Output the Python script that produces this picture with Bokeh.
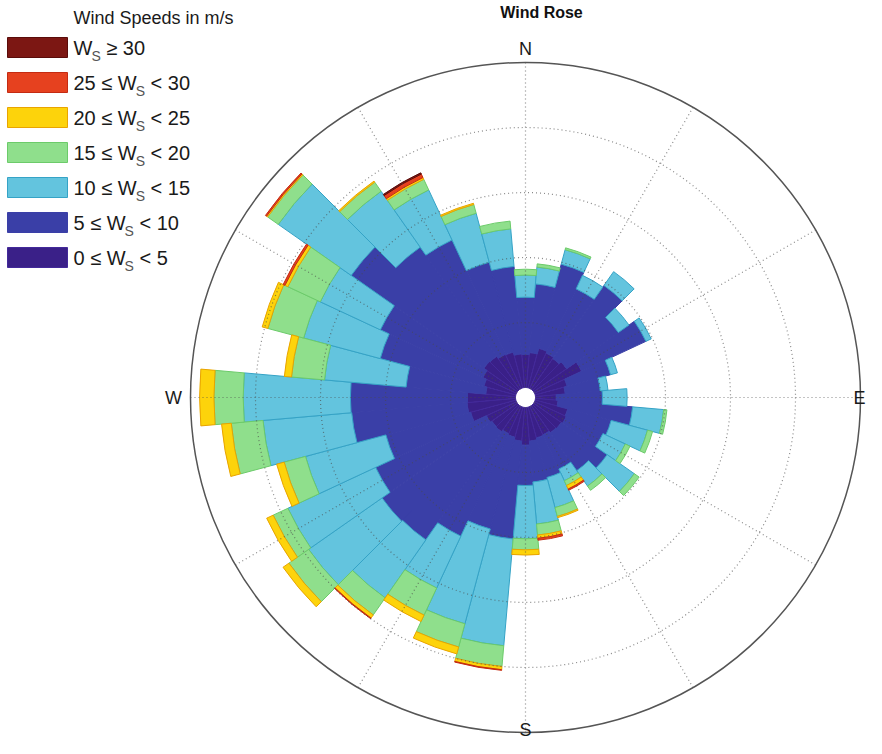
import math
from bokeh.plotting import figure
from bokeh.models import Range1d
from bokeh.embed import file_html
from bokeh.resources import INLINE
from bokeh.core.properties import value

# ---------------- data (frequency per speed bin, % ; one ring = 1 %) ----------------
directions = list(range(0, 360, 10))  # compass degrees, N = 0, clockwise

ws_0_5 = [0.51, 0.54, 0.63, 0.60, 0.58, 0.62, 0.80, 0.51, 0.46, 0.32, 0.35, 0.52,
          0.54, 0.52, 0.51, 0.48, 0.49, 0.52, 0.58, 0.52, 0.48, 0.46, 0.49, 0.48,
          0.51, 0.72, 0.75, 0.74, 0.46, 0.51, 0.57, 0.63, 0.62, 0.58, 0.57, 0.52]
ws_5_10 = [0.88, 1.06, 1.34, 1.09, 1.37, 0.97, 1.09, 0.69, 0.54, 0.71, 1.15, 0.69,
           0.62, 0.86, 0.71, 0.58, 0.63, 0.63, 0.62, 1.51, 1.46, 1.74, 2.03, 2.06,
           1.88, 1.35, 1.78, 1.80, 1.23, 1.65, 1.74, 2.49, 2.05, 1.94, 1.43, 1.35]
ws_10_15 = [0.34, 0.26, 0.23, 0.23, 0.26, 0.20, 0.09, 0.11, 0.12, 0.38, 0.48, 0.58,
            0.38, 0.51, 0.29, 0.20, 0.48, 0.65, 0.82, 1.65, 1.51, 0.88, 1.09, 1.38,
            1.49, 1.28, 1.37, 1.65, 1.26, 1.22, 1.02, 1.37, 1.05, 0.85, 0.78, 0.58]
ws_15_20 = [0.09, 0.05, 0.03, 0.00, 0.00, 0.00, 0.00, 0.00, 0.00, 0.00, 0.05, 0.08,
            0.08, 0.09, 0.08, 0.08, 0.14, 0.17, 0.17, 0.32, 0.37, 0.46, 0.32, 0.37,
            0.25, 0.34, 0.49, 0.45, 0.51, 0.57, 0.55, 0.20, 0.17, 0.18, 0.14, 0.12]
ws_20_25 = [0.00, 0.00, 0.00, 0.00, 0.00, 0.00, 0.00, 0.00, 0.00, 0.00, 0.00, 0.00,
            0.00, 0.00, 0.00, 0.06, 0.02, 0.05, 0.08, 0.05, 0.11, 0.11, 0.06, 0.11,
            0.11, 0.12, 0.15, 0.22, 0.11, 0.09, 0.05, 0.02, 0.02, 0.03, 0.02, 0.00]
ws_25_30 = [0.00, 0.00, 0.00, 0.00, 0.00, 0.00, 0.00, 0.00, 0.00, 0.00, 0.00, 0.00,
            0.00, 0.00, 0.00, 0.02, 0.00, 0.03, 0.00, 0.01, 0.00, 0.00, 0.01, 0.00,
            0.00, 0.00, 0.00, 0.00, 0.00, 0.00, 0.03, 0.02, 0.00, 0.06, 0.00, 0.00]
ws_30_up = [0.00, 0.00, 0.00, 0.00, 0.00, 0.00, 0.00, 0.00, 0.00, 0.00, 0.00, 0.00,
            0.00, 0.00, 0.00, 0.00, 0.00, 0.00, 0.00, 0.00, 0.00, 0.00, 0.00, 0.00,
            0.00, 0.00, 0.00, 0.00, 0.00, 0.00, 0.00, 0.00, 0.00, 0.02, 0.00, 0.00]

bins = [ws_0_5, ws_5_10, ws_10_15, ws_15_20, ws_20_25, ws_25_30, ws_30_up]
bin_fill = ["#3a2088", "#3a3fa7", "#63c4de", "#8fdf8c", "#fdd30b", "#e6411f", "#7c1713"]
bin_line = ["#43299a", "#3a3fa7", "#35a3c6", "#6ccb6a", "#e9a400", "#c42b12", "#5a0c0a"]

legend_prefix = ["W", "25 \u2264 W", "20 \u2264 W", "15 \u2264 W", "10 \u2264 W", "5 \u2264 W", "0 \u2264 W"]
legend_suffix = ["\u2265 30", "< 30", "< 25", "< 20", "< 15", "< 10", "< 5"]
legend_order = [6, 5, 4, 3, 2, 1, 0]  # bins listed top to bottom

compass_labels = ["N", "E", "S", "W"]
ring_values = [1, 2, 3, 4]
outer_value = 5

# ---------------- geometry ----------------
W, H = 866, 738
CX, CY = 525, 341          # centre of the rose
R0 = 10                    # empty hole radius
PX = 65                    # pixels per 1 %
def rad(v):
    return R0 + v * PX

p = figure(width=W, height=H, x_range=Range1d(0, W), y_range=Range1d(0, H),
           output_backend="svg", toolbar_location=None, min_border=0)
p.axis.visible = False
p.grid.visible = False
p.outline_line_color = None
p.background_fill_color = "white"
p.border_fill_color = "white"

FONT = value("Liberation Sans")

# ---------------- wedges ----------------
cum = [0.0] * len(directions)
for k, b in enumerate(bins):
    xs, ys, ri, ro, sa, ea = [], [], [], [], [], []
    for i, d in enumerate(directions):
        v = b[i]
        if v <= 0:
            continue
        ri.append(rad(cum[i]))
        ro.append(rad(cum[i] + v))
        sa.append(math.radians(90 - d - 5))
        ea.append(math.radians(90 - d + 5))
        xs.append(CX)
        ys.append(CY)
        cum[i] += v
    p.annular_wedge(x=xs, y=ys, inner_radius=ri, outer_radius=ro,
                    start_angle=sa, end_angle=ea, direction="anticlock",
                    fill_color=bin_fill[k], line_color=bin_line[k], line_width=1)

# ---------------- grid ----------------
p.circle(x=[CX] * len(ring_values), y=[CY] * len(ring_values),
         radius=[rad(v) for v in ring_values], fill_color=None,
         line_color="#4a4a4a", line_alpha=0.65, line_dash="1 3", line_width=1.2)
spokes = list(range(0, 360, 30))
x0 = [CX + R0 * math.sin(math.radians(a)) for a in spokes]
y0 = [CY + R0 * math.cos(math.radians(a)) for a in spokes]
x1 = [CX + rad(outer_value) * math.sin(math.radians(a)) for a in spokes]
y1 = [CY + rad(outer_value) * math.cos(math.radians(a)) for a in spokes]
p.segment(x0=x0, y0=y0, x1=x1, y1=y1, line_color="#4a4a4a", line_alpha=0.65,
          line_dash="1 3", line_width=1.2)
p.circle(x=[CX], y=[CY], radius=[rad(outer_value)], fill_color=None,
         line_color="#555555", line_width=1.5)

# ---------------- compass labels ----------------
lab = dict(text_font=FONT, text_font_size=value("18px"), text_baseline="middle", text_color="#1a1a1a")
p.text(x=[CX], y=[690], text=[compass_labels[0]], text_align="center", **lab)
p.text(x=[865], y=[CY], text=[compass_labels[1]], text_align="right", **lab)
p.text(x=[CX], y=[9], text=[compass_labels[2]], text_align="center", **lab)
p.text(x=[173], y=[CY], text=[compass_labels[3]], text_align="center", **lab)

# ---------------- title ----------------
p.text(x=[541], y=[726], text=["Wind Rose"], text_font=FONT, text_font_style="bold",
       text_font_size=value("16px"), text_align="center", text_baseline="middle", text_color="#111111")

# ---------------- legend ----------------
ADV = {"W": 944, "S": 667, " ": 278, "\u2264": 549, "\u2265": 549, "<": 584,
       "0": 556, "1": 556, "2": 556, "3": 556, "4": 556, "5": 556}
def width(s, size):
    return sum(ADV.get(c, 556) for c in s) * size / 1000.0

p.text(x=[73], y=[721], text=["Wind Speeds in m/s"], text_font=FONT,
       text_font_size=value("18px"), text_align="left", text_baseline="middle", text_color="#1a1a1a")
row_y = [691 - 35 * j for j in range(len(legend_order))]
LX = 73
for j, k in enumerate(legend_order):
    y = row_y[j]
    p.rect(x=[37], y=[y], width=[60], height=[20], fill_color=bin_fill[k],
           line_color=bin_line[k], line_width=1)
    pre, suf = legend_prefix[j], legend_suffix[j]
    wp = width(pre, 20)
    xs_ = LX + wp - 1
    p.text(x=[LX], y=[y], text=[pre], text_font=FONT, text_font_size=value("20px"),
           text_align="left", text_baseline="middle", text_color="#1a1a1a")
    p.text(x=[xs_], y=[y - 8], text=["S"], text_font=FONT, text_font_size=value("14px"),
           text_align="left", text_baseline="middle", text_color="#555555")
    p.text(x=[xs_ + width("S", 14) + width(" ", 20)], y=[y], text=[suf], text_font=FONT,
           text_font_size=value("20px"), text_align="left", text_baseline="middle", text_color="#1a1a1a")

open("out.html", "w").write(file_html(p, INLINE))
